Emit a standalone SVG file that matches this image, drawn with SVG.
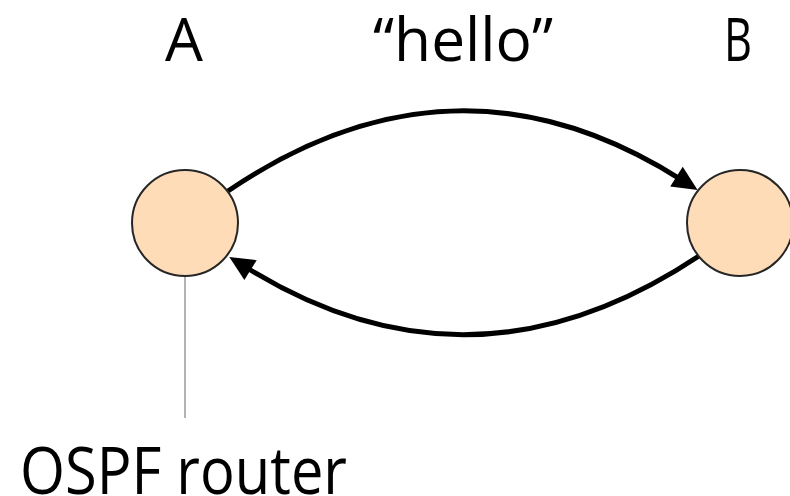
<svg xmlns="http://www.w3.org/2000/svg" width="790" height="496" viewBox="0 0 790 496">
  <style>
    .lbl { font-family: "Open Sans", "DejaVu Sans", sans-serif; fill: #000; }
    .node { fill: #fedcb7; stroke: #262626; stroke-width: 2; }
    .edge { fill: none; stroke: #000; stroke-width: 5; }
    .pin { stroke: #b3b3b3; stroke-width: 2; }
  </style>
  <defs>
    <marker id="arrow" markerUnits="userSpaceOnUse" markerWidth="40" markerHeight="40" viewBox="-10 -20 40 40" refX="0" refY="0" orient="auto" overflow="visible">
      <path d="M-5,-11.7 L20,0 L-5,11.7 Z" fill="#000"/>
    </marker>
  </defs>
  <rect width="790" height="496" fill="#fff"/>
  <g id="connectors">
    <path class="edge" d="M228,191 Q455.3,36.6 680.7,179.3" marker-end="url(#arrow)"/>
    <path class="edge" d="M699,256 Q471.7,407.5 246.3,267.5" marker-end="url(#arrow)"/>
    <line class="pin" x1="185" y1="277" x2="185" y2="418"/>
  </g>
  <g id="node-A">
    <circle class="node" cx="185" cy="223" r="53"/>
  </g>
  <g id="node-B">
    <circle class="node" cx="740" cy="223" r="53"/>
  </g>
  <g id="labels">
    <text class="lbl" x="184" y="61" font-size="60" text-anchor="middle">A</text>
    <text class="lbl" x="463" y="61" font-size="60" text-anchor="middle" textLength="180" lengthAdjust="spacingAndGlyphs">“hello”</text>
    <text class="lbl" x="738" y="61" font-size="60" text-anchor="middle" textLength="28" lengthAdjust="spacingAndGlyphs">B</text>
    <text class="lbl" x="20" y="494" font-size="66" textLength="327" lengthAdjust="spacingAndGlyphs">OSPF router</text>
  </g>
</svg>
